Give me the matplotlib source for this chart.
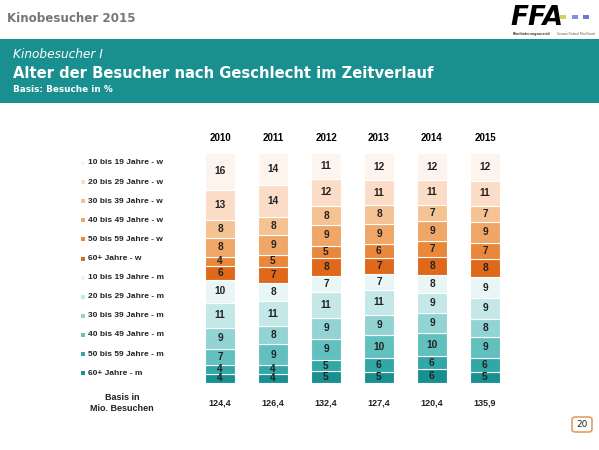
import numpy as np
import matplotlib
matplotlib.use("Agg")
import matplotlib.pyplot as plt
from matplotlib.patches import Rectangle, FancyBboxPatch
import matplotlib.transforms as mtransforms

# Daten (Anteile in %, je Jahr von oben nach unten gelesen)
years = ["2010", "2011", "2012", "2013", "2014", "2015"]
groups = ["10 bis 19 Jahre - w", "20 bis 29 Jahre - w", "30 bis 39 Jahre - w",
          "40 bis 49 Jahre - w", "50 bis 59 Jahre - w", "60+ Jahre - w",
          "10 bis 19 Jahre - m", "20 bis 29 Jahre - m", "30 bis 39 Jahre - m",
          "40 bis 49 Jahre - m", "50 bis 59 Jahre - m", "60+ Jahre - m"]
v2010 = [16, 13, 8, 8, 4, 6, 10, 11, 9, 7, 4, 4]
v2011 = [14, 14, 8, 9, 5, 7, 8, 11, 8, 9, 4, 4]
v2012 = [11, 12, 8, 9, 5, 8, 7, 11, 9, 9, 5, 5]
v2013 = [12, 11, 8, 9, 6, 7, 7, 11, 9, 10, 6, 5]
v2014 = [12, 11, 7, 9, 7, 8, 8, 9, 9, 10, 6, 6]
v2015 = [12, 11, 7, 9, 7, 8, 9, 9, 8, 9, 6, 5]
basis = ["124,4", "126,4", "132,4", "127,4", "120,4", "135,9"]

colors = ["#fdf4ee", "#fbdcc6", "#f5c294", "#efa667", "#e9883a", "#e0681a",
          "#e9f6f6", "#c4e7e7", "#92d4d3", "#62c0bf", "#31a8a7", "#18908f"]

W, H = 599, 450
fig = plt.figure(figsize=(W / 100, H / 100), dpi=100)
fig.patch.set_facecolor("white")

def fx(px):
    return px / W

def fy(py):
    return 1 - py / H

# Kopfzeile
fig.text(fx(7), fy(18), "Kinobesucher 2015", fontsize=8.6, fontweight="bold",
         color="#777777", family="DejaVu Sans", va="center", ha="left")
fig.patches.append(Rectangle((0, fy(103)), 1, (103 - 39) / H, transform=fig.transFigure,
                             facecolor="#19908f", edgecolor="none"))
fig.text(fx(13), fy(55), "Kinobesucher I", fontsize=8.7, style="italic",
         color="white", family="DejaVu Sans", va="center")
fig.text(fx(13), fy(73), "Alter der Besucher nach Geschlecht im Zeitverlauf", fontsize=10.6,
         fontweight="bold", color="white", family="DejaVu Sans", va="center")
fig.text(fx(13), fy(89), "Basis: Besuche in %", fontsize=6.4, fontweight="bold",
         color="white", family="DejaVu Sans", va="center")

# Logo
fig.text(fx(537), fy(18), "FFA", fontsize=19, fontweight="heavy", style="italic",
         family="DejaVu Sans", color="black", ha="center", va="center")
for x0, c in [(560, "#d2d35c"), (572, "#8c90d2"), (583, "#7076c8")]:
    fig.patches.append(Rectangle((fx(x0), fy(19)), 6 / W, 4 / H, transform=fig.transFigure,
                                 facecolor=c, edgecolor="none"))
fig.text(fx(513), fy(34), "Filmförderungsanstalt", fontsize=2.5, family="Liberation Sans",
         fontweight="bold", color="#333333", va="center")
fig.text(fx(557), fy(34), "German Federal Film Board", fontsize=2.2, family="Liberation Sans",
         color="#555555", va="center")

# Balken
raw = [v2010, v2011, v2012, v2013, v2014, v2015]
data = np.array(raw, dtype=float)
data = data / data.sum(axis=1, keepdims=True) * 100

ax = fig.add_axes([fx(193.5), fy(383), (511.5 - 193.5) / W, 230 / H])
x = np.arange(len(years))
bottom = np.zeros(len(years))
for i in range(len(groups) - 1, -1, -1):
    vals = data[:, i]
    ax.bar(x, vals, width=0.58, bottom=bottom, color=colors[i],
           edgecolor="white", linewidth=0.8)
    for j in range(len(years)):
        ax.text(x[j], bottom[j] + vals[j] / 2, str(raw[j][i]), ha="center", va="center",
                fontsize=7.3, fontweight="bold", color="#222222", family="Liberation Sans")
    bottom += vals

ax.set_xlim(-0.5, 5.5)
ax.set_ylim(0, 100)
ax.xaxis.tick_top()
ax.set_xticks(x)
ax.set_xticklabels(years, fontsize=7, fontweight="bold", family="Liberation Sans")
ax.tick_params(axis="x", length=0, pad=7)
ax.set_yticks([])
for s in ax.spines.values():
    s.set_visible(False)

trans = mtransforms.blended_transform_factory(ax.transData, fig.transFigure)
for j in range(len(years)):
    ax.text(x[j], fy(403), basis[j], transform=trans, ha="center", va="center",
            fontsize=6.5, fontweight="bold", color="#222222", family="Liberation Sans")
fig.text(fx(122), fy(403), "Basis in\nMio. Besuchen", ha="center", va="center",
         fontsize=6.5, fontweight="bold", color="#222222", family="Liberation Sans",
         linespacing=1.2)

# Legende
for i, g in enumerate(groups):
    yy = 163 + i * 19.1
    fig.patches.append(Rectangle((fx(81), fy(yy + 2)), 4 / W, 4 / H, transform=fig.transFigure,
                                 facecolor=colors[i], edgecolor="none"))
    fig.text(fx(88), fy(yy), g, fontsize=6, fontweight="bold", color="#222222",
             family="Liberation Sans", va="center")

# Seitenzahl
fig.patches.append(FancyBboxPatch((fx(572), fy(432)), 20 / W, 15 / H, transform=fig.transFigure,
                                  boxstyle="round,pad=0,rounding_size=0.006",
                                  facecolor="white", edgecolor="#e2a060", linewidth=1.2))
fig.text(fx(582), fy(424.5), "20", fontsize=6.5, ha="center", va="center",
         family="DejaVu Sans", color="#222222")

fig.savefig("out.png", dpi=100)
